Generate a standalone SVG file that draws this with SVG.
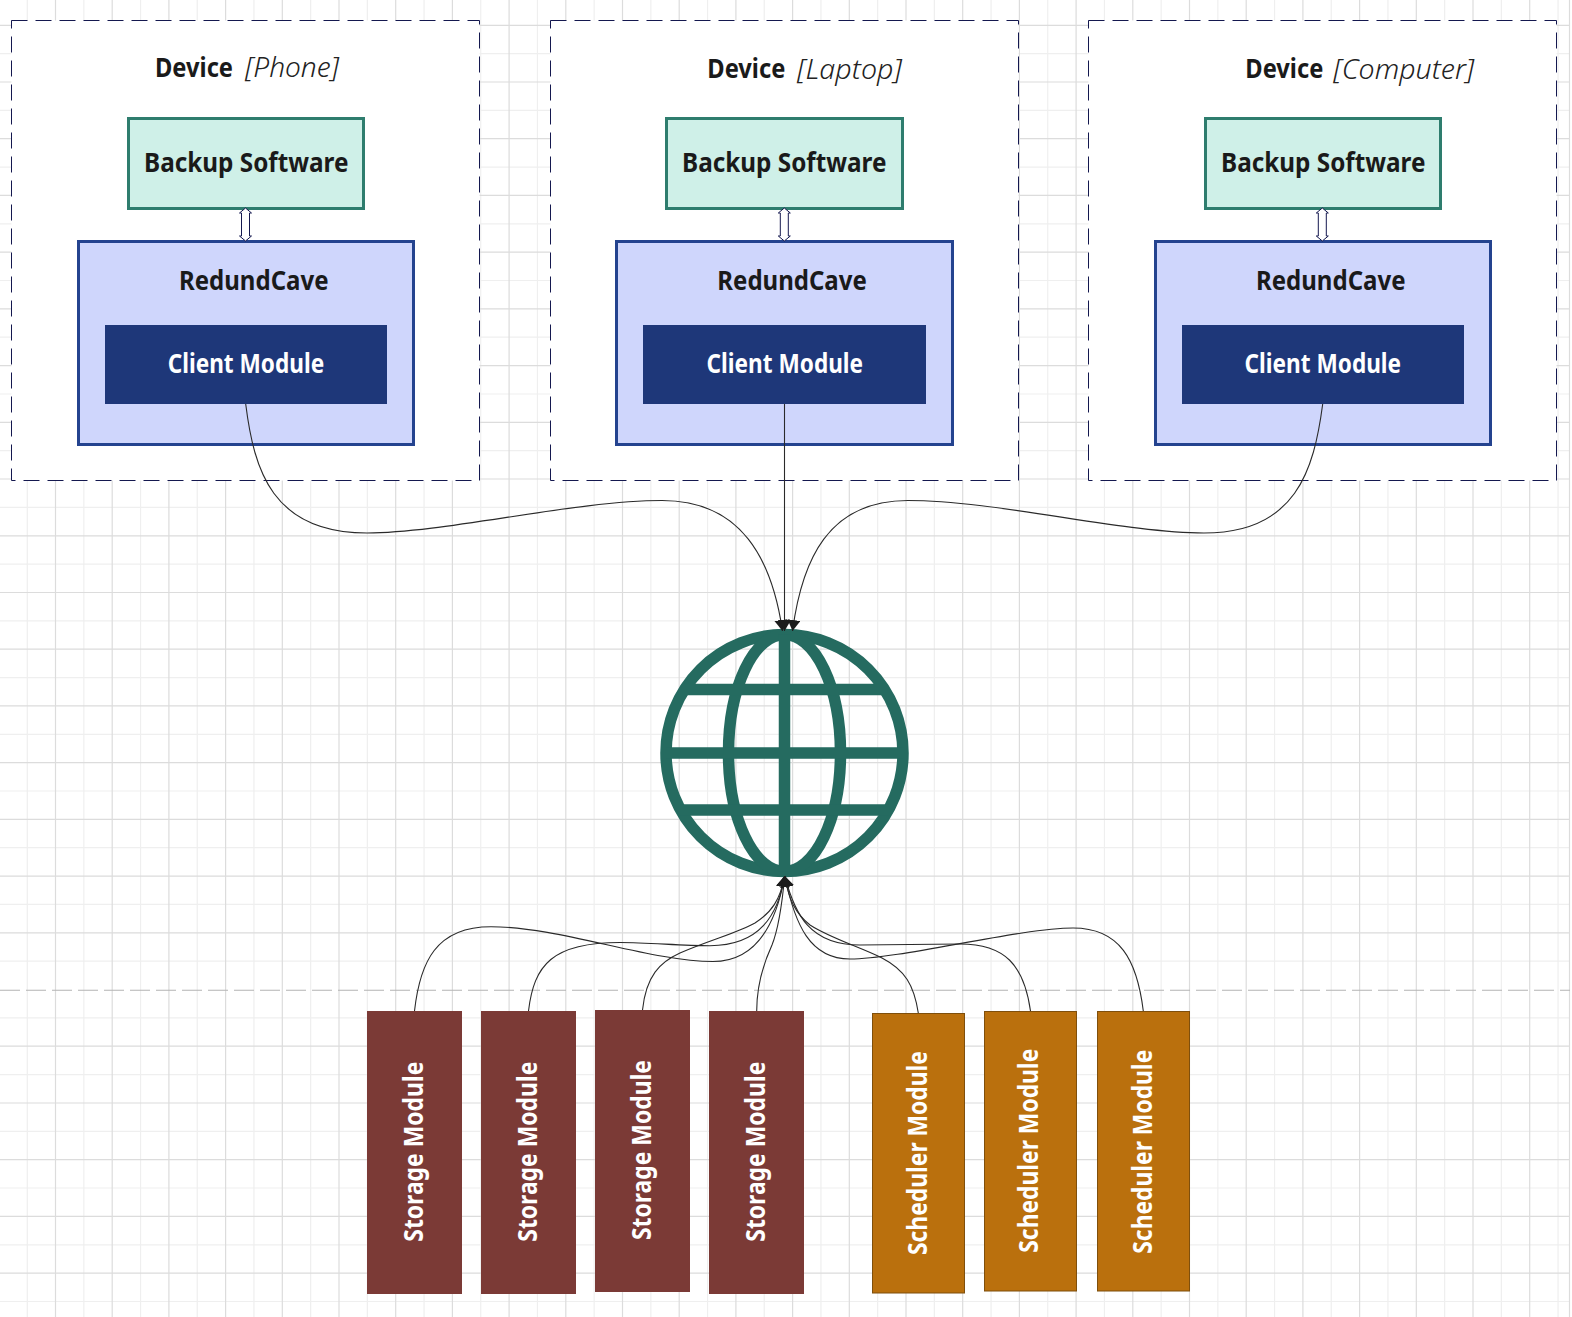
<svg xmlns="http://www.w3.org/2000/svg" width="1572" height="1317" viewBox="0 0 1572 1317">
<style>
text{font-family:"Noto Sans","Open Sans","Liberation Sans",sans-serif;font-weight:700;font-size:26px;fill:#1a1a1a}
.it{font-weight:300;font-style:italic;font-size:27px;fill:#222}
.w{fill:#fff}
.dev{fill:#fff;stroke:#14184f;stroke-width:1;stroke-dasharray:16 8}
.bk{fill:#cff0e8;stroke:#2e7d6e;stroke-width:3}
.rc{fill:#cfd6fc;stroke:#24438f;stroke-width:3}
.cl{fill:#1e3779}
.st{fill:#7b3a36}
.sc{fill:#ba700d;stroke:#7f4f0c;stroke-width:1}
.cn{fill:none;stroke:#2a2a2a;stroke-width:1.1;marker-end:url(#ah)}
.dbl{fill:#fff;stroke:#14184f;stroke-width:1}
.gl{fill:none;stroke:#256b60;stroke-width:11.5}
</style>
<defs>
<marker id="ah" markerUnits="userSpaceOnUse" markerWidth="14" markerHeight="14" refX="11" refY="6.5" orient="auto"><path d="M0 0L11 6.5L0 13Z" fill="#1c1c1c"/></marker>
<path id="dblarrow" d="M0 0L6 5H4V28H6L0 33L-6 28H-4V5H-6Z"/>
</defs>
<rect width="1572" height="1317" fill="#fff"/>
<g id="grid" fill="none">
<path stroke="#efefef" stroke-width="1.2" d="M27.3 0V1317M83.85 0V1317M140.55 0V1317M197.25 0V1317M253.95 0V1317M310.65 0V1317M367.35 0V1317M424.05 0V1317M480.75 0V1317M537.45 0V1317M594.15 0V1317M650.85 0V1317M707.55 0V1317M764.25 0V1317M820.95 0V1317M877.65 0V1317M934.35 0V1317M991.05 0V1317M1047.75 0V1317M1104.45 0V1317M1161.15 0V1317M1217.85 0V1317M1274.55 0V1317M1331.25 0V1317M1387.95 0V1317M1444.65 0V1317M1501.35 0V1317M1558.05 0V1317M0 53.6H1570M0 110.4H1570M0 167.1H1570M0 223.8H1570M0 280.5H1570M0 337.2H1570M0 394H1570M0 450.7H1570M0 507.4H1570M0 564.1H1570M0 620.8H1570M0 677.6H1570M0 734.3H1570M0 791H1570M0 847.7H1570M0 904.4H1570M0 961.2H1570M0 1017.9H1570M0 1074.6H1570M0 1131.3H1570M0 1188H1570M0 1244.8H1570M0 1301.5H1570"/>
<path stroke="#dcdcdc" stroke-width="1.2" d="M55.5 0V1317M112.2 0V1317M168.9 0V1317M225.6 0V1317M282.3 0V1317M339 0V1317M395.7 0V1317M452.4 0V1317M509.1 0V1317M565.8 0V1317M622.5 0V1317M679.2 0V1317M735.9 0V1317M792.6 0V1317M849.3 0V1317M906 0V1317M962.7 0V1317M1019.4 0V1317M1076.1 0V1317M1132.8 0V1317M1189.5 0V1317M1246.2 0V1317M1302.9 0V1317M1359.6 0V1317M1416.3 0V1317M1473 0V1317M1529.7 0V1317M1569.5 0V1317M0 25.3H1570M0 82H1570M0 138.7H1570M0 195.4H1570M0 252.2H1570M0 308.9H1570M0 365.6H1570M0 422.3H1570M0 479H1570M0 535.8H1570M0 592.5H1570M0 649.2H1570M0 705.9H1570M0 762.6H1570M0 819.4H1570M0 876.1H1570M0 932.8H1570M0 1046.2H1570M0 1103H1570M0 1159.7H1570M0 1216.4H1570M0 1273.1H1570"/>
<path stroke="#b4b4b4" stroke-width="1.1" stroke-dasharray="20 6" d="M0 990.3H1570"/>
</g>
<g id="device-phone"><rect class="dev" x="11.5" y="20.5" width="468" height="460"/><text x="155" y="76.7" textLength="78" lengthAdjust="spacingAndGlyphs">Device</text><text class="it" x="245" y="77.2" textLength="94" lengthAdjust="spacingAndGlyphs">[Phone]</text></g>
<g id="device-laptop"><rect class="dev" x="550.5" y="20.5" width="468" height="460"/><text x="707.3" y="78" textLength="78" lengthAdjust="spacingAndGlyphs">Device</text><text class="it" x="797" y="78.5" textLength="105" lengthAdjust="spacingAndGlyphs">[Laptop]</text></g>
<g id="device-computer"><rect class="dev" x="1088.5" y="20.5" width="468" height="460"/><text x="1245.3" y="78" textLength="78" lengthAdjust="spacingAndGlyphs">Device</text><text class="it" x="1333.3" y="78.5" textLength="141" lengthAdjust="spacingAndGlyphs">[Computer]</text></g>
<g id="backup-phone"><rect class="bk" x="128.5" y="118.5" width="235" height="90"/><text x="144" y="171.7" textLength="204.5" lengthAdjust="spacingAndGlyphs">Backup Software</text></g>
<g id="backup-laptop"><rect class="bk" x="666.5" y="118.5" width="236" height="90"/><text x="682" y="171.7" textLength="204.5" lengthAdjust="spacingAndGlyphs">Backup Software</text></g>
<g id="backup-computer"><rect class="bk" x="1205.5" y="118.5" width="235" height="90"/><text x="1221" y="171.7" textLength="204.5" lengthAdjust="spacingAndGlyphs">Backup Software</text></g>
<g id="redundcave-phone"><rect class="rc" x="78.5" y="241.5" width="335" height="203"/><text x="179" y="289.7" textLength="149.5" lengthAdjust="spacingAndGlyphs">RedundCave</text></g>
<g id="redundcave-laptop"><rect class="rc" x="616.5" y="241.5" width="336" height="203"/><text x="717.3" y="289.7" textLength="149.5" lengthAdjust="spacingAndGlyphs">RedundCave</text></g>
<g id="redundcave-computer"><rect class="rc" x="1155.5" y="241.5" width="335" height="203"/><text x="1256" y="289.7" textLength="149.5" lengthAdjust="spacingAndGlyphs">RedundCave</text></g>
<g id="client-phone"><rect class="cl" x="105" y="325" width="282" height="79"/><text class="w" x="167.7" y="372.7" textLength="156.5" lengthAdjust="spacingAndGlyphs">Client Module</text></g>
<g id="client-laptop"><rect class="cl" x="643" y="325" width="283" height="79"/><text class="w" x="706.6" y="372.7" textLength="156.5" lengthAdjust="spacingAndGlyphs">Client Module</text></g>
<g id="client-computer"><rect class="cl" x="1182" y="325" width="282" height="79"/><text class="w" x="1244.6" y="372.7" textLength="156.5" lengthAdjust="spacingAndGlyphs">Client Module</text></g>
<g id="internet-globe" class="gl"><circle cx="784.5" cy="753" r="118.5"/><ellipse cx="784.5" cy="753" rx="56" ry="118.5"/><path d="M784.5 634.5V871.5M684 689.5H885M666 753H903M680 810H889"/></g>
<g id="storage-1"><rect class="st" x="367" y="1011" width="95" height="283"/><text class="w" transform="translate(422.7 1241.7) rotate(-90)" textLength="180" lengthAdjust="spacingAndGlyphs">Storage Module</text></g>
<g id="storage-2"><rect class="st" x="481" y="1011" width="95" height="283"/><text class="w" transform="translate(536.7 1241.7) rotate(-90)" textLength="180" lengthAdjust="spacingAndGlyphs">Storage Module</text></g>
<g id="storage-3"><rect class="st" x="595" y="1010" width="95" height="282"/><text class="w" transform="translate(651 1240) rotate(-90)" textLength="180" lengthAdjust="spacingAndGlyphs">Storage Module</text></g>
<g id="storage-4"><rect class="st" x="709" y="1011" width="95" height="283"/><text class="w" transform="translate(765 1241.7) rotate(-90)" textLength="180" lengthAdjust="spacingAndGlyphs">Storage Module</text></g>
<g id="scheduler-1"><rect class="sc" x="872.5" y="1013.5" width="92" height="279.5"/><text class="w" transform="translate(927 1255) rotate(-90)" textLength="204" lengthAdjust="spacingAndGlyphs">Scheduler Module</text></g>
<g id="scheduler-2"><rect class="sc" x="984.5" y="1011.5" width="92" height="279.5"/><text class="w" transform="translate(1038.3 1252.7) rotate(-90)" textLength="204" lengthAdjust="spacingAndGlyphs">Scheduler Module</text></g>
<g id="scheduler-3"><rect class="sc" x="1097.5" y="1011.5" width="92" height="279.5"/><text class="w" transform="translate(1151.7 1253.7) rotate(-90)" textLength="204" lengthAdjust="spacingAndGlyphs">Scheduler Module</text></g>
<g id="connectors">
<use href="#dblarrow" class="dbl" x="245.5" y="208"/>
<use href="#dblarrow" class="dbl" x="784.3" y="208"/>
<use href="#dblarrow" class="dbl" x="1322.3" y="208"/>
<path class="cn" d="M245.7 404C254 470 272 533 367 533C445 533 575 500.5 662 500.5C742 500.5 772 560 782.5 631"/>
<path class="cn" d="M784.5 404V631"/>
<path class="cn" d="M1322.7 404C1314 470 1296 533 1204 533C1125 533 995 500.5 908 500.5C828 500.5 802 560 792.5 631"/>
<path class="cn" d="M414.5 1011C420 962 436 926.7 491 926.7C560 926.7 650 961.5 713 961.5C756 961.5 776 925 784.7 876"/>
<path class="cn" d="M528.5 1011C534 965 552 942.5 620 942.5C650 942.5 680 945.7 710 945.7C760 945.7 778 915 784.7 876"/>
<path class="cn" d="M642.5 1010C646 976 660 962 680 953C710 940 740 932 755 923C772 912 780 900 784.7 876"/>
<path class="cn" d="M756.7 1011C756.7 980 766 958 772 945C778 930 782 905 784.7 876"/>
<path class="cn" d="M918.3 1013C914 985 905 970 882 958C860 947 830 938 810 925C795 913 789 900 784.7 876"/>
<path class="cn" d="M1030.5 1011C1024 965 1005 944 960 944C930 944 890 945 860 945C810 945 795 915 784.7 876"/>
<path class="cn" d="M1143.3 1011C1137 960 1120 928 1073 928C1020 928 900 959 850 959C810 959 795 925 784.7 876"/>
</g>
</svg>
